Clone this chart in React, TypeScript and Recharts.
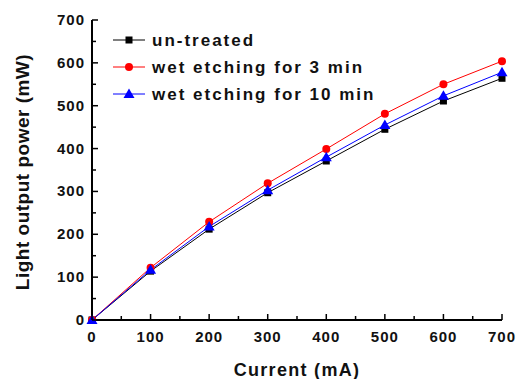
import React from "react";
import { LineChart, Line, XAxis, YAxis } from "recharts";

const currents = [0, 100, 200, 300, 400, 500, 600, 700];
const untreated = [0, 114, 212, 297, 371, 445, 511, 564];
const wet3 = [0, 122, 229, 319, 399, 481, 550, 604];
const wet10 = [0, 117, 218, 303, 380, 455, 523, 578];

const xTicks = [0, 50, 100, 150, 200, 250, 300, 350, 400, 450, 500, 550, 600, 650, 700];
const yTicks = [0, 50, 100, 150, 200, 250, 300, 350, 400, 450, 500, 550, 600, 650, 700];

const series = [
  { key: "untreated", name: "un-treated", color: "#000000", shape: "square" },
  { key: "wet3", name: "wet etching for 3 min", color: "#ff0000", shape: "circle" },
  { key: "wet10", name: "wet etching for 10 min", color: "#0000ff", shape: "triangle" },
];

const data = currents.map((c, i) => ({
  current: c,
  untreated: untreated[i],
  wet3: wet3[i],
  wet10: wet10[i],
}));

const FONT = "'Liberation Sans', Arial, sans-serif";

function Marker({ cx, cy, shape, color }: any) {
  if (shape === "square") {
    return <rect x={cx - 3.5} y={cy - 3.5} width={7} height={7} fill={color} />;
  }
  if (shape === "circle") {
    return <circle cx={cx} cy={cy} r={4} fill={color} />;
  }
  return (
    <polygon
      points={`${cx},${cy - 5.5} ${cx + 5.5},${cy + 4} ${cx - 5.5},${cy + 4}`}
      fill={color}
    />
  );
}

const YTick = ({ x, y, payload }: any) => {
  const major = payload.value % 100 === 0;
  return (
    <g>
      <line x1={x} x2={x + (major ? 6 : 4)} y1={y} y2={y} stroke="#000" strokeWidth={1.5} />
      {major && (
        <text
          x={x - 7}
          y={y + 5}
          textAnchor="end"
          fontFamily={FONT}
          fontWeight="bold"
          fontSize={15}
          letterSpacing={1}
          fill="#111"
        >
          {payload.value}
        </text>
      )}
    </g>
  );
};

const XTick = ({ x, y, payload }: any) => {
  const major = payload.value % 100 === 0;
  return (
    <g>
      <line x1={x} x2={x} y1={y} y2={y - (major ? 6 : 4)} stroke="#000" strokeWidth={1.5} />
      {major && (
        <text
          x={x}
          y={y + 22}
          textAnchor="middle"
          fontFamily={FONT}
          fontWeight="bold"
          fontSize={15}
          letterSpacing={1}
          fill="#111"
        >
          {payload.value}
        </text>
      )}
    </g>
  );
};

export default function App() {
  return (
    <div style={{ position: "absolute", left: 0, top: 0, width: 516, height: 379, background: "#fff" }}>
      <LineChart
        width={516}
        height={379}
        data={data}
        margin={{ top: 20, right: 14, left: 0, bottom: 0 }}
      >
        <XAxis
          dataKey="current"
          type="number"
          domain={[0, 700]}
          ticks={xTicks}
          interval={0}
          height={59}
          tickSize={0}
          tickMargin={0}
          tick={<XTick />}
          axisLine={{ stroke: "#000", strokeWidth: 2 }}
        />
        <YAxis
          type="number"
          domain={[0, 700]}
          ticks={yTicks}
          interval={0}
          width={92}
          tickSize={0}
          tickMargin={0}
          tick={<YTick />}
          axisLine={{ stroke: "#000", strokeWidth: 2 }}
        />
        <XAxis
          xAxisId="top"
          orientation="top"
          dataKey="current"
          type="number"
          domain={[0, 700]}
          height={0}
          tick={false}
          tickLine={false}
          axisLine={{ stroke: "#000", strokeWidth: 2 }}
        />
        <YAxis
          yAxisId="right"
          orientation="right"
          type="number"
          domain={[0, 700]}
          width={0}
          tick={false}
          tickLine={false}
          axisLine={{ stroke: "#000", strokeWidth: 2 }}
        />
        {series.map((s) => (
          <Line
            key={s.key}
            dataKey={s.key}
            name={s.name}
            type="linear"
            stroke={s.color}
            strokeWidth={1}
            isAnimationActive={false}
            dot={(p: any) => (
              <Marker key={`${s.key}-${p.index}`} cx={p.cx} cy={p.cy} shape={s.shape} color={s.color} />
            )}
          />
        ))}
      </LineChart>

      <svg
        width={516}
        height={379}
        style={{ position: "absolute", left: 0, top: 0, pointerEvents: "none" }}
      >
        <text
          transform="translate(29,172) rotate(-90)"
          textAnchor="middle"
          fontFamily={FONT}
          fontWeight="bold"
          fontSize={19}
          letterSpacing={0.5}
          fill="#111"
        >
          Light output power (mW)
        </text>
        <text
          x={297}
          y={376}
          textAnchor="middle"
          fontFamily={FONT}
          fontWeight="bold"
          fontSize={18}
          letterSpacing={1.3}
          fill="#111"
        >
          Current (mA)
        </text>
        {series.map((s, i) => {
          const y = 40 + i * 27;
          return (
            <g key={s.key}>
              <line x1={113} x2={145} y1={y} y2={y} stroke={s.color} strokeWidth={1} />
              <Marker cx={129} cy={y} shape={s.shape} color={s.color} />
              <text
                x={152}
                y={y + 6}
                fontFamily={FONT}
                fontWeight="bold"
                fontSize={17}
                letterSpacing={2}
                fill="#111"
              >
                {s.name}
              </text>
            </g>
          );
        })}
      </svg>
    </div>
  );
}
